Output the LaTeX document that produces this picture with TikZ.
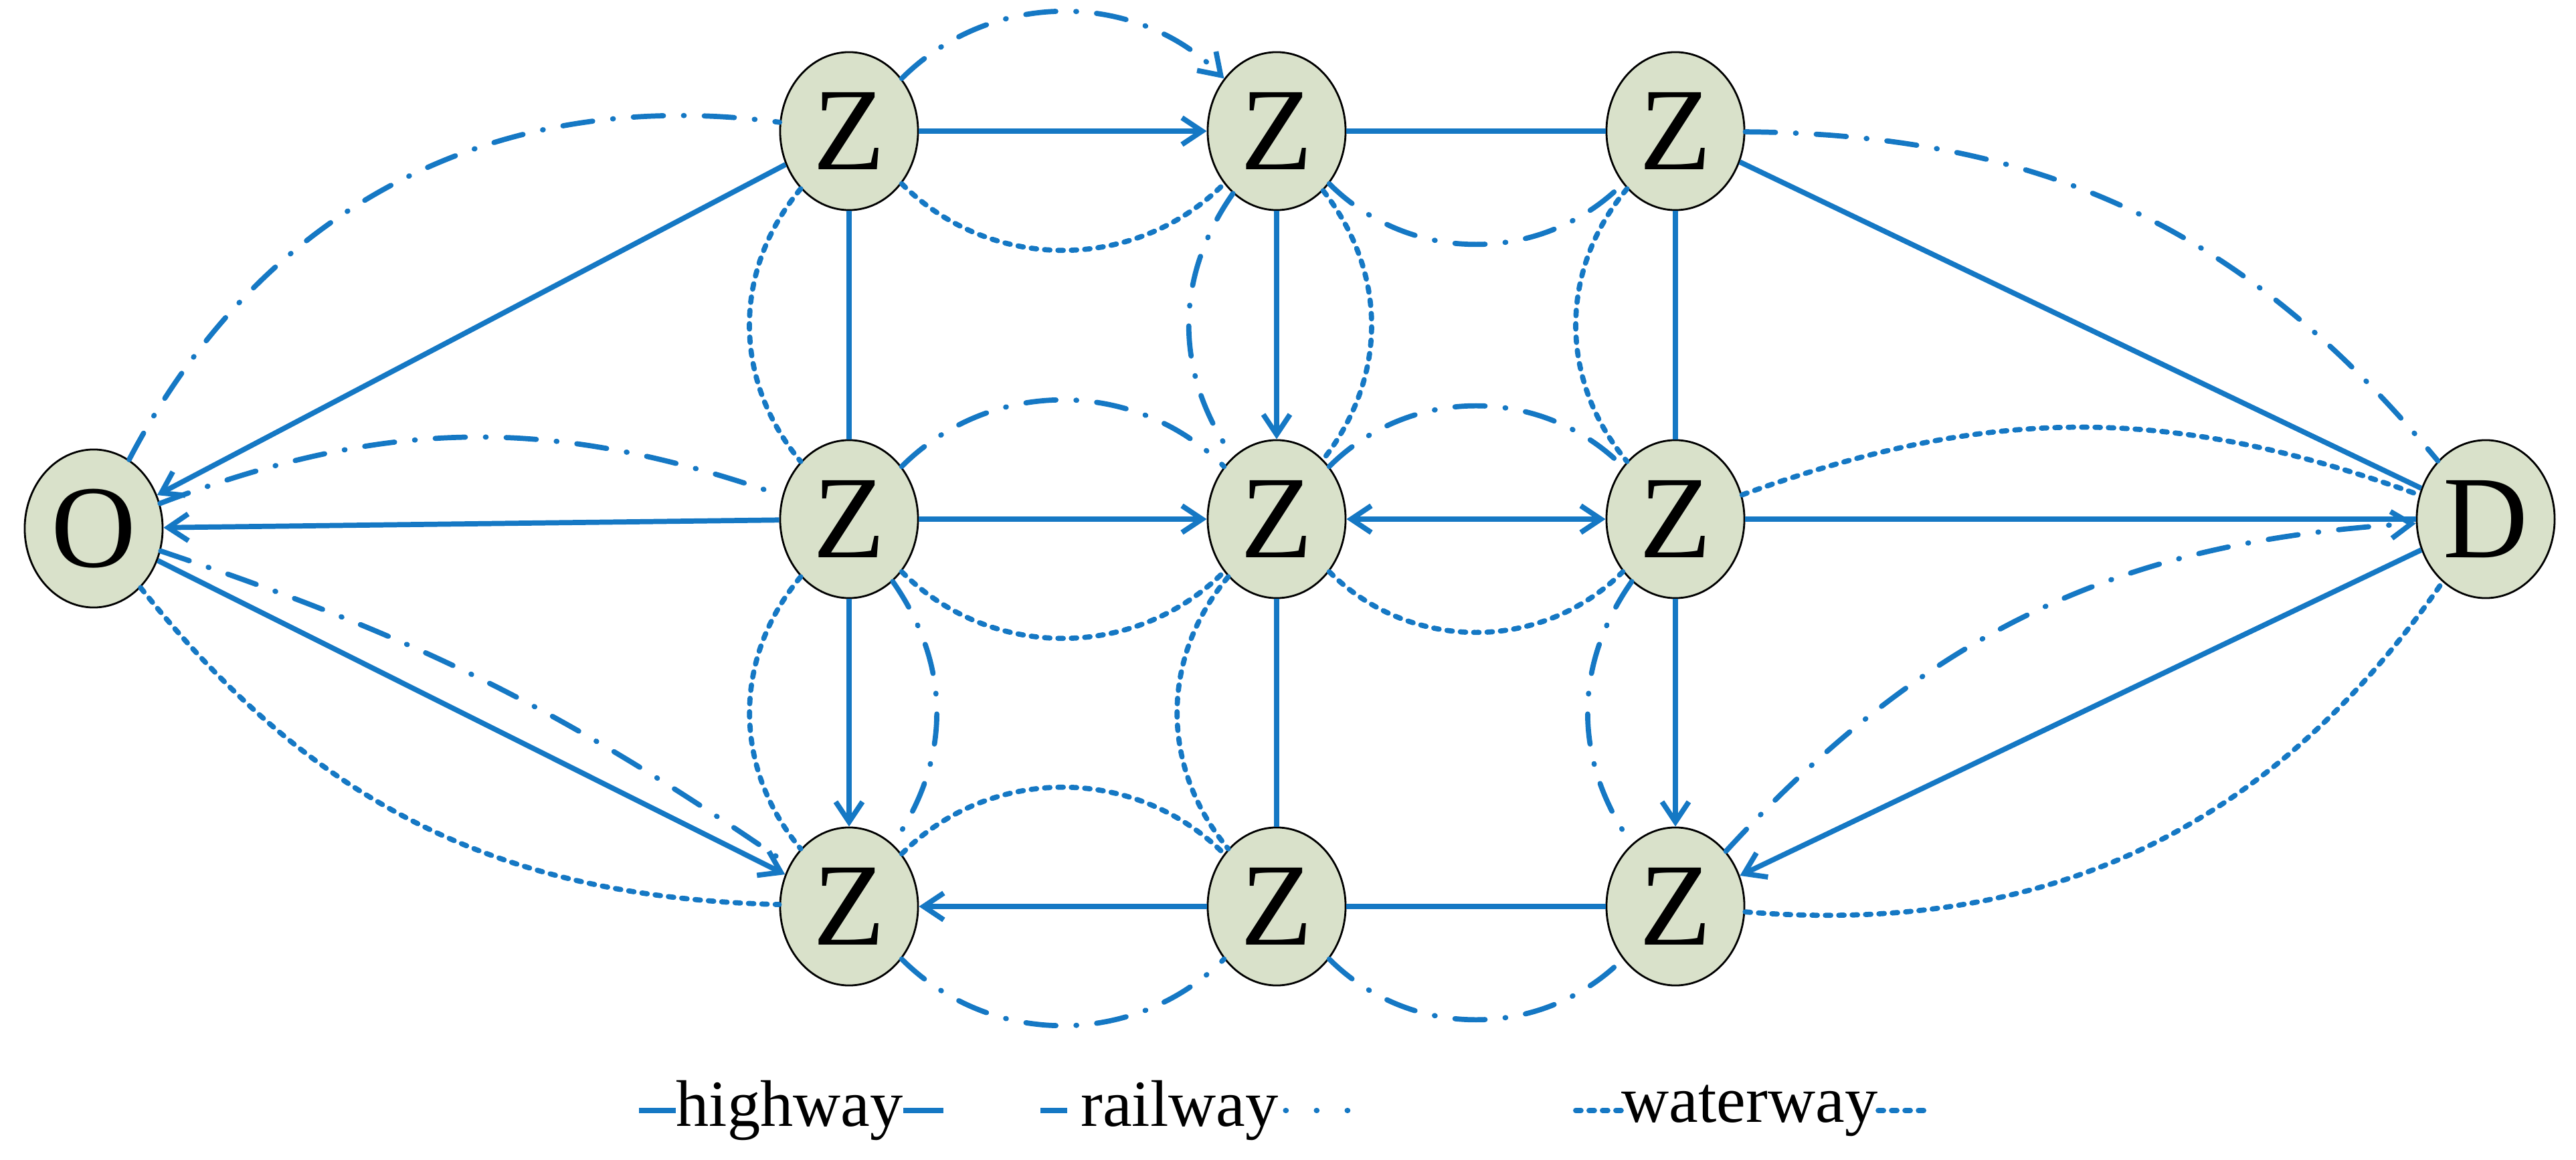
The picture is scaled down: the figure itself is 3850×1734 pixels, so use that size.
\documentclass[tikz,border=0pt]{standalone}
\usepackage{fontspec}
\setmainfont{Liberation Serif}
\usetikzlibrary{shapes.geometric,arrows.meta}
\definecolor{eb}{RGB}{21,120,196}
\definecolor{nf}{RGB}{217,225,202}
\begin{document}
\begin{tikzpicture}[x=0.01cm,y=-0.01cm,
  nd/.style={ellipse,draw=black,line width=0.8pt,fill=nf,minimum width=2.06cm,minimum height=2.36cm,inner sep=0pt,font=\fontsize{50}{54}\selectfont},
  hw/.style={draw=eb,line width=2.2pt},
  rw/.style={draw=eb,line width=2.2pt,line cap=round,dash pattern=on 0.45cm off 0.3cm on 0.01cm off 0.3cm},
  ww/.style={draw=eb,line width=2.2pt,line cap=round,dash pattern=on 0.08cm off 0.12cm},
  ar/.style={-{Straight Barb[length=0.3cm,width=0.4cm,line width=2.2pt]}},
  lg/.style={font=\fontsize{28}{32}\selectfont,inner sep=0pt}]
\useasboundingbox (0,0) rectangle (3850,1734);
\node[nd] (O) at (140,790) {O};
\node[nd] (D) at (3715,776) {D};
\foreach \r/\y in {1/196,2/776,3/1355}{
  \foreach \c/\x in {1/1269,2/1908,3/2504}{
    \node[nd] (Z\r\c) at (\x,\y) {Z};}}
% highway
\draw[hw,ar] (Z11) -- (O);
\draw[hw,ar] (Z21) -- (O);
\draw[hw,ar] (O) -- (Z31);
\draw[hw,ar] (Z11) -- (Z12);
\draw[hw] (Z12) -- (Z13);
\draw[hw] (Z11) -- (Z21);
\draw[hw,ar] (Z21) -- (Z31);
\draw[hw,ar] (Z12) -- (Z22);
\draw[hw] (Z22) -- (Z32);
\draw[hw] (Z13) -- (Z23);
\draw[hw,ar] (Z23) -- (Z33);
\draw[hw,ar] (Z21) -- (Z22);
\draw[hw,<->,>={Straight Barb[length=0.3cm,width=0.4cm,line width=2.2pt]}] (Z22) -- (Z23);
\draw[hw] (Z23) -- (D);
\draw[hw] (Z13) -- (D);
\draw[hw,ar] (D) -- (Z33);
\draw[hw,ar] (Z32) -- (Z31);
\draw[hw] (Z32) -- (Z33);
% railway
\draw[rw] (O) to[bend left=35] (Z11);
\draw[rw] (O) to[bend left=20] (Z21);
\draw[rw] (O) to[bend left=8] (Z31);
\draw[rw,ar] (Z11) to[bend left=45] (Z12);
\draw[rw] (Z12) to[bend right=45] (Z13);
\draw[rw] (Z12) to[bend right=35] (Z22);
\draw[rw] (Z21) to[bend left=45] (Z22);
\draw[rw] (Z22) to[bend left=45] (Z23);
\draw[rw] (Z21) to[bend left=35] (Z31);
\draw[rw] (Z23) to[bend right=35] (Z33);
\draw[rw] (Z31) to[bend right=45] (Z32);
\draw[rw] (Z32) to[bend right=45] (Z33);
\draw[rw] (Z13) to[bend left=25] (D);
\draw[rw,ar] (Z33) to[bend left=22] (D);
% waterway
\draw[ww] (O) to[bend right=25] (Z31);
\draw[ww] (Z11) to[bend right=45] (Z12);
\draw[ww] (Z11) to[bend right=40] (Z21);
\draw[ww] (Z12) to[bend left=38] (Z22);
\draw[ww] (Z13) to[bend right=40] (Z23);
\draw[ww] (Z21) to[bend right=45] (Z22);
\draw[ww] (Z22) to[bend right=45] (Z23);
\draw[ww] (Z21) to[bend right=40] (Z31);
\draw[ww] (Z22) to[bend right=40] (Z32);
\draw[ww] (Z31) to[bend left=45] (Z32);
\draw[ww] (Z23) to[bend left=20] (D);
\draw[ww] (Z33) to[bend right=30] (D);
% legend
\node[lg] (l1) at (1180,1660) {highway};
\node[lg] (l2) at (1763,1660) {railway};
\node[lg] (l3) at (2615,1660) {waterway};
\draw[hw] (l1.west) -- ++(-55,0);
\draw[hw] (l1.east) -- ++(60,0);
\draw[hw] (l2.west) ++(-20,0) -- ++(-40,0);
\draw[rw,dash pattern=on 0.01cm off 0.45cm] (l2.east) ++(10,0) -- ++(120,0);
\draw[ww] (l3.west) -- ++(-70,0);
\draw[ww] (l3.east) -- ++(70,0);
\end{tikzpicture}
\end{document}
